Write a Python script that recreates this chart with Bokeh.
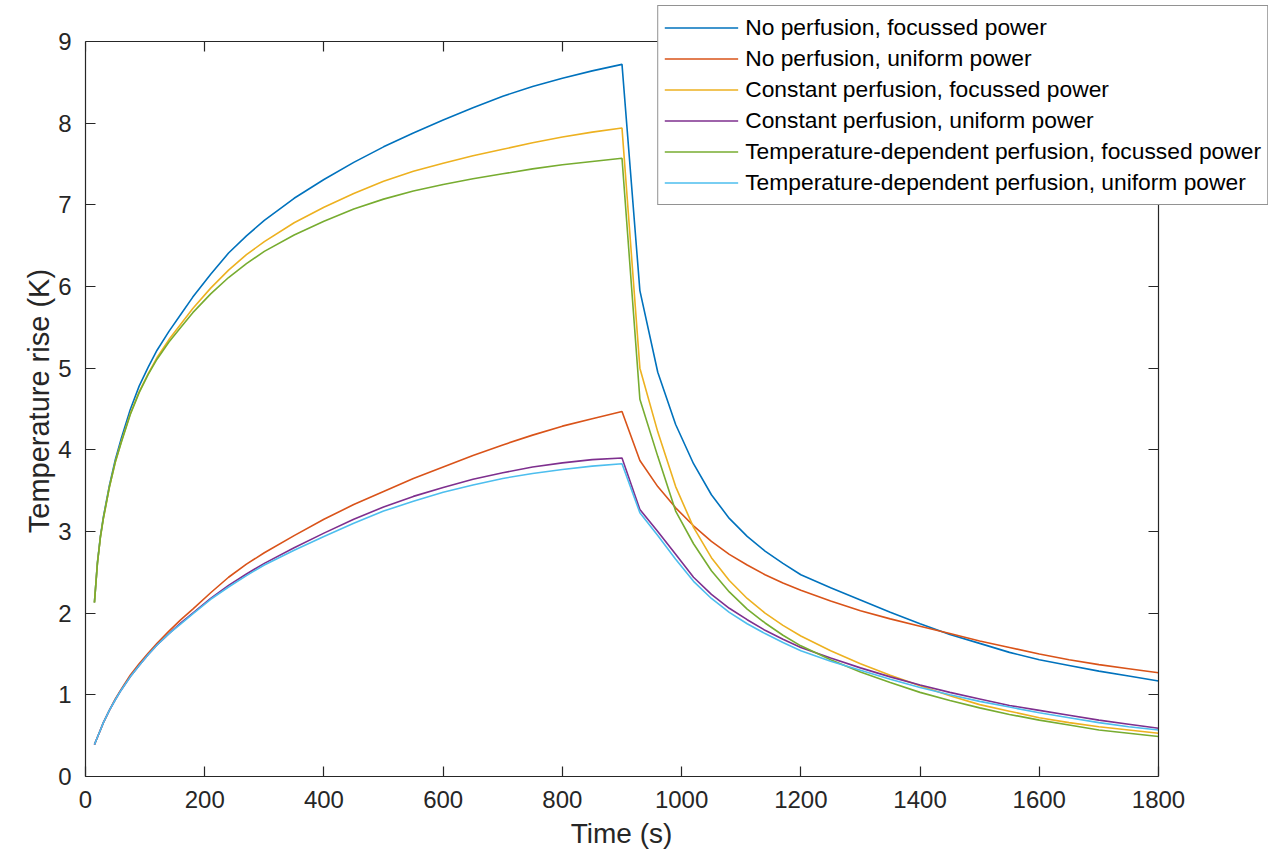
from bokeh.plotting import figure
from bokeh.models import LinearAxis, Legend, LegendItem, FixedTicker, Range1d, Title
from bokeh.embed import file_html
from bokeh.resources import INLINE

# ---- data ----
time_s = [15, 20, 25, 30, 40, 50, 60, 75, 90, 105, 120, 140, 160, 180, 210, 240, 270,
          300, 350, 400, 450, 500, 550, 600, 650, 700, 750, 800, 850, 900,
          930, 960, 990, 1020, 1050, 1080, 1110, 1140, 1170, 1200, 1250, 1300, 1350,
          1400, 1450, 1500, 1550, 1600, 1650, 1700, 1750, 1800]

no_perf_focused = [2.13, 2.62, 2.94, 3.18, 3.56, 3.88, 4.14, 4.49, 4.78, 5.01, 5.22, 5.45,
                   5.66, 5.87, 6.15, 6.41, 6.62, 6.81, 7.08, 7.31, 7.52, 7.71, 7.88, 8.04,
                   8.19, 8.33, 8.45, 8.55, 8.64, 8.72,
                   5.95, 4.95, 4.31, 3.83, 3.45, 3.16, 2.94, 2.76, 2.61, 2.47, 2.31, 2.16,
                   2.01, 1.87, 1.74, 1.63, 1.52, 1.43, 1.36, 1.29, 1.23, 1.17]

no_perf_uniform = [0.39, 0.48, 0.57, 0.66, 0.81, 0.95, 1.07, 1.24, 1.38, 1.51, 1.63, 1.78,
                   1.92, 2.05, 2.25, 2.44, 2.60, 2.74, 2.95, 3.15, 3.33, 3.49, 3.65, 3.79,
                   3.93, 4.06, 4.18, 4.29, 4.38, 4.47,
                   3.87, 3.55, 3.29, 3.07, 2.88, 2.72, 2.59, 2.47, 2.37, 2.28, 2.15, 2.03,
                   1.93, 1.84, 1.75, 1.66, 1.58, 1.50, 1.43, 1.37, 1.32, 1.27]

const_perf_focused = [2.13, 2.61, 2.93, 3.16, 3.54, 3.85, 4.10, 4.44, 4.71, 4.93, 5.13, 5.35,
                      5.54, 5.73, 5.98, 6.20, 6.39, 6.55, 6.78, 6.97, 7.14, 7.29, 7.41, 7.51,
                      7.60, 7.68, 7.76, 7.83, 7.89, 7.94,
                      5.00, 4.22, 3.55, 3.05, 2.68, 2.40, 2.18, 2.00, 1.85, 1.72, 1.54, 1.38,
                      1.24, 1.11, 0.99, 0.88, 0.80, 0.72, 0.66, 0.61, 0.57, 0.53]

const_perf_uniform = [0.39, 0.48, 0.57, 0.66, 0.81, 0.94, 1.06, 1.22, 1.36, 1.49, 1.61, 1.75,
                      1.88, 2.00, 2.18, 2.34, 2.48, 2.61, 2.80, 2.98, 3.15, 3.30, 3.43, 3.54,
                      3.64, 3.72, 3.79, 3.84, 3.88, 3.90,
                      3.27, 3.00, 2.72, 2.44, 2.23, 2.06, 1.92, 1.79, 1.68, 1.58, 1.45, 1.33,
                      1.22, 1.12, 1.03, 0.95, 0.87, 0.81, 0.75, 0.69, 0.64, 0.59]

tdep_perf_focused = [2.13, 2.61, 2.93, 3.16, 3.54, 3.85, 4.09, 4.43, 4.70, 4.92, 5.11, 5.32,
                     5.50, 5.68, 5.91, 6.11, 6.28, 6.43, 6.63, 6.80, 6.95, 7.07, 7.17, 7.25,
                     7.32, 7.38, 7.44, 7.49, 7.53, 7.57,
                     4.62, 3.92, 3.25, 2.85, 2.52, 2.26, 2.05, 1.88, 1.73, 1.60, 1.43, 1.28,
                     1.15, 1.03, 0.93, 0.84, 0.76, 0.69, 0.63, 0.57, 0.53, 0.49]

tdep_perf_uniform = [0.39, 0.48, 0.57, 0.66, 0.81, 0.94, 1.06, 1.22, 1.36, 1.49, 1.61, 1.75,
                     1.87, 1.99, 2.17, 2.32, 2.46, 2.59, 2.77, 2.94, 3.10, 3.25, 3.37, 3.48,
                     3.57, 3.65, 3.71, 3.76, 3.80, 3.83,
                     3.23, 2.95, 2.66, 2.39, 2.18, 2.01, 1.87, 1.75, 1.64, 1.54, 1.41, 1.30,
                     1.19, 1.09, 1.00, 0.92, 0.85, 0.78, 0.72, 0.66, 0.61, 0.57]

series_labels = ["No perfusion, focussed power",
                 "No perfusion, uniform power",
                 "Constant perfusion, focussed power",
                 "Constant perfusion, uniform power",
                 "Temperature-dependent perfusion, focussed power",
                 "Temperature-dependent perfusion, uniform power"]
series_values = [no_perf_focused, no_perf_uniform, const_perf_focused,
                 const_perf_uniform, tdep_perf_focused, tdep_perf_uniform]
series_colors = ["#0072BD", "#D95319", "#EDB120", "#7E2F8E", "#77AC30", "#4DBEEE"]

x_ticks = [0, 200, 400, 600, 800, 1000, 1200, 1400, 1600, 1800]
y_ticks = [0, 1, 2, 3, 4, 5, 6, 7, 8, 9]
X_MIN, X_MAX = 0, 1800
Y_MIN, Y_MAX = 0, 9
x_title = "Time (s)"
y_title = "Temperature rise (K)"

# ---- layout (pixels) ----
FONT = "Liberation Sans"
DARK = "#262626"
AX_L, AX_R, AX_T, AX_B = 85, 1158, 41, 776      # axes box in the reference
FR_R, FR_T = 1268, 5                             # frame also holds the legend
W, H = 1276, 855
X_TITLE_PX, Y_TITLE_PX = 28, 29
X_TITLE_W = 3.666 * X_TITLE_PX     # approx. text widths (Arial metrics)
Y_TITLE_W = 9.224 * Y_TITLE_PX
Y_TITLE_CENTER = 399

x_view_max = X_MAX * (FR_R - AX_L) / (AX_R - AX_L)
y_view_max = Y_MAX * (AX_B - FR_T) / (AX_B - AX_T)

p = figure(width=W, height=H, output_backend="svg", toolbar_location=None,
           x_range=Range1d(X_MIN, x_view_max), y_range=Range1d(Y_MIN, y_view_max),
           min_border_left=AX_L, min_border_top=FR_T,
           min_border_right=W - FR_R, min_border_bottom=H - AX_B)
p.outline_line_color = None
p.grid.visible = False
p.background_fill_color = "white"
p.border_fill_color = "white"

renderers = []
for vals, col in zip(series_values, series_colors):
    r = p.line(time_s, vals, line_color=col, line_width=1.6)
    renderers.append(r)

def style_axis(ax, labels=True):
    ax.axis_line_color = DARK
    ax.axis_line_width = 1.2
    ax.major_tick_line_color = DARK
    ax.major_tick_line_width = 1.2
    ax.major_tick_in = 10
    ax.major_tick_out = 0
    ax.minor_tick_in = 0
    ax.minor_tick_out = 0
    ax.minor_tick_line_color = None
    ax.major_label_text_font = FONT
    ax.major_label_text_color = DARK
    ax.major_label_text_font_size = "24px"
    ax.axis_label = None
    if not labels:
        ax.major_label_text_alpha = 0
        ax.major_label_text_font_size = "0px"
        ax.major_label_standoff = 0

xa = p.xaxis[0]
ya = p.yaxis[0]
xa.ticker = FixedTicker(ticks=x_ticks)
ya.ticker = FixedTicker(ticks=y_ticks)
style_axis(xa)
style_axis(ya)
xa.bounds = (X_MIN, X_MAX)
ya.bounds = (Y_MIN, Y_MAX)
xa.major_label_standoff = 14
ya.major_label_standoff = 14

# axis titles, centred on the axes box (not on the wider frame)
x_off = (AX_L + AX_R) / 2 - X_TITLE_W / 2 - AX_L
y_off = AX_B - (Y_TITLE_CENTER + Y_TITLE_W / 2)
tx = Title(text=x_title, align="left", offset=x_off, standoff=10, vertical_align="bottom",
           text_font=FONT, text_font_size=f"{X_TITLE_PX}px", text_font_style="normal",
           text_color=DARK)
ty = Title(text=y_title, align="left", offset=y_off, standoff=2,
           text_font=FONT, text_font_size=f"{Y_TITLE_PX}px", text_font_style="normal",
           text_color=DARK)
p.add_layout(tx, "below")
p.add_layout(ty, "left")

# box edges (top and right) with inward ticks, placed at the data limits
top_ax = LinearAxis(ticker=FixedTicker(ticks=x_ticks), fixed_location=Y_MAX, bounds=(X_MIN, X_MAX))
right_ax = LinearAxis(ticker=FixedTicker(ticks=y_ticks), fixed_location=X_MAX, bounds=(Y_MIN, Y_MAX))
style_axis(top_ax, labels=False)
style_axis(right_ax, labels=False)
p.add_layout(top_ax, "above")
p.add_layout(right_ax, "right")

items = [LegendItem(label=lab, renderers=[r]) for lab, r in zip(series_labels, renderers)]
legend = Legend(items=items, location="top_right", orientation="vertical")
legend.label_text_font = FONT
legend.label_text_font_size = "22.8px"
legend.label_text_color = "#000000"
legend.label_height = 31
legend.glyph_height = 31
legend.glyph_width = 74
legend.label_standoff = 7
legend.spacing = 0
legend.padding = 6
legend.margin = 0
legend.border_line_color = DARK
legend.border_line_width = 1.2
legend.background_fill_color = "white"
legend.background_fill_alpha = 1.0
p.add_layout(legend, "center")

open("out.html", "w").write(file_html(p, INLINE))
